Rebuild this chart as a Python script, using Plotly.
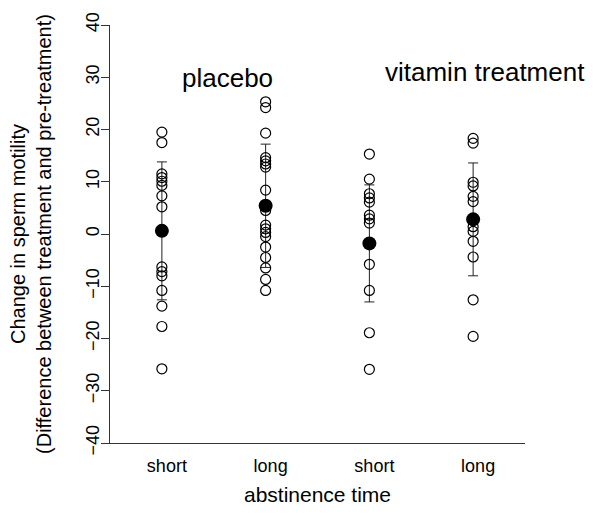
import plotly.graph_objects as go

# ---- data ----
tick_labels = ["short", "long", "short", "long"]
group_pos = [1, 2, 3, 4]

placebo_short = [19.5, 17.5, 11.5, 10.8, 10.1, 9.3, 7.3, 5.2, -6.3, -7.2, -8.0, -10.8, -13.8, -17.7, -25.8]
placebo_long = [25.3, 24.2, 19.3, 14.6, 14.0, 13.4, 12.8, 8.4, 4.5, 1.7, 1.0, 0.3, -0.5, -2.5, -4.5, -6.5, -8.7, -10.8]
vitamin_short = [15.3, 10.5, 7.7, 6.9, 6.1, 3.6, 2.9, 2.1, -5.8, -10.8, -18.9, -25.9]
vitamin_long = [18.3, 17.4, 9.9, 9.2, 7.2, 6.2, 1.4, 0.5, -1.4, -4.4, -12.6, -19.6]

group_means = [0.6, 5.4, -1.8, 2.8]
group_sds = [13.2, 11.8, 11.2, 10.8]

y_ticks = [-40, -30, -20, -10, 0, 10, 20, 30, 40]

FONT = "Liberation Sans, Arial, Helvetica, sans-serif"

fig = go.Figure()

# error bars (mean +/- SD)
fig.add_trace(go.Scatter(
    x=group_pos, y=group_means, mode="markers",
    marker=dict(size=1, color="rgba(0,0,0,0)"),
    error_y=dict(type="data", array=group_sds, visible=True,
                 color="#222222", thickness=1, width=5),
    showlegend=False, hoverinfo="skip"))

# individual observations
for pos, vals in zip(group_pos, [placebo_short, placebo_long, vitamin_short, vitamin_long]):
    fig.add_trace(go.Scatter(
        x=[pos] * len(vals), y=vals, mode="markers",
        marker=dict(symbol="circle-open", size=10, color="black",
                    line=dict(width=1.2, color="black")),
        showlegend=False))

# group means
fig.add_trace(go.Scatter(
    x=group_pos, y=group_means, mode="markers",
    marker=dict(symbol="circle", size=14, color="black"),
    showlegend=False))

fig.add_annotation(x=0.282, y=0.873, xref="paper", yref="paper",
                   xanchor="center", yanchor="middle",
                   text="placebo", showarrow=False,
                   font=dict(family=FONT, size=26, color="black"))
fig.add_annotation(x=0.904, y=0.887, xref="paper", yref="paper",
                   xanchor="center", yanchor="middle",
                   text="vitamin treatment", showarrow=False,
                   font=dict(family=FONT, size=26, color="black"))

fig.update_layout(
    width=596, height=514,
    margin=dict(l=110, r=71, t=25, b=65),
    paper_bgcolor="white", plot_bgcolor="white",
    font=dict(family=FONT, color="black"),
    xaxis=dict(
        range=[0.5, 4.5], tickvals=group_pos, ticktext=tick_labels,
        showgrid=False, zeroline=False, showline=True, linecolor="#333333",
        linewidth=1, ticks="", ticklabelstandoff=6, ticklabelshift=5,
        tickfont=dict(family=FONT, size=18),
        title=dict(text="abstinence time", font=dict(family=FONT, size=21), standoff=12),
    ),
    yaxis=dict(
        range=[-40, 40], tickvals=y_ticks,
        showgrid=False, zeroline=False, showline=True, linecolor="#333333",
        linewidth=1, ticks="outside", ticklen=8, tickcolor="#333333",
        tickangle=-90, ticklabelstandoff=-5, tickfont=dict(family=FONT, size=18),
        title=dict(text="Change in sperm motility<br>(Difference between treatment and pre-treatment)",
                   font=dict(family=FONT, size=20), standoff=25),
    ),
)

fig.write_html("out.html",
               config={"displayModeBar": False, "staticPlot": True},
               post_script="document.body.style.margin='0';document.body.style.overflow='hidden';")
